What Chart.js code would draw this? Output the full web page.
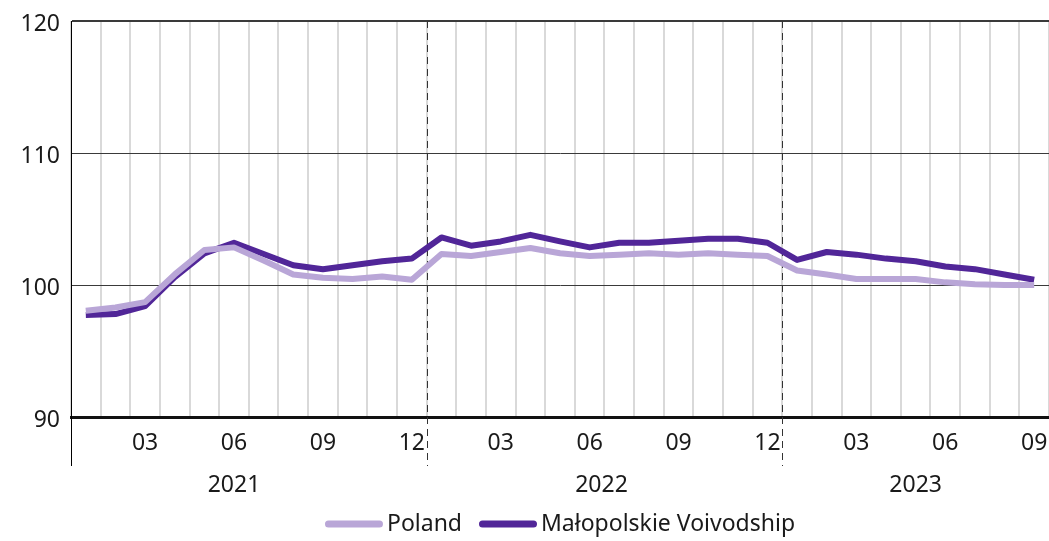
<!DOCTYPE html>
<html>
<head>
<meta charset="utf-8">
<script src="https://cdn.jsdelivr.net/npm/chart.js@4.4.1/dist/chart.umd.min.js"></script>
<style>
  html, body { margin: 0; padding: 0; background: #fff; }
  #wrap { width: 1049px; height: 541px; position: relative; }
</style>
</head>
<body>
<div id="wrap"><canvas id="c"></canvas></div>
<script>
// months 2021-01 .. 2023-09
const months = ['01','02','03','04','05','06','07','08','09','10','11','12',
                '01','02','03','04','05','06','07','08','09','10','11','12',
                '01','02','03','04','05','06','07','08','09'];
const years = ['2021', '2022', '2023'];
const yearStart = [0, 12, 24];        // first month index of each year
const yearLabelAt = [5, 17.4, 28];    // where the year label sits (month index)

const poland = [98.05, 98.3, 98.7, 100.8, 102.65, 102.85, 101.85, 100.8, 100.55, 100.45, 100.65, 100.4,
                102.35, 102.2, 102.5, 102.8, 102.4, 102.2, 102.3, 102.4, 102.3, 102.4, 102.3, 102.2,
                101.1, 100.8, 100.45, 100.45, 100.45, 100.2, 100.05, 100.0, 100.0];
const malopolskie = [97.73, 97.8, 98.4, 100.6, 102.4, 103.2, 102.35, 101.5, 101.2, 101.5, 101.8, 102.0,
                     103.6, 102.98, 103.3, 103.8, 103.3, 102.85, 103.2, 103.2, 103.35, 103.5, 103.5, 103.2,
                     101.9, 102.5, 102.3, 102.0, 101.8, 101.4, 101.2, 100.8, 100.4];

const FONT = '"Noto Sans", "Open Sans", sans-serif';
const FSIZE = 23;
const TEXT = '#1a1a1a';

const extras = {
  id: 'extras',
  beforeDatasetsDraw(chart) {
    const ctx = chart.ctx, x = chart.scales.x, area = chart.chartArea;
    const step = x.getPixelForValue(1) - x.getPixelForValue(0);
    ctx.save();
    // left axis line extends down past the plot
    ctx.strokeStyle = '#000';
    ctx.lineWidth = 1;
    ctx.beginPath();
    ctx.moveTo(area.left + 0.5, area.top);
    ctx.lineTo(area.left + 0.5, area.bottom + 49);
    ctx.stroke();
    // dashed year separators
    ctx.strokeStyle = '#333';
    ctx.setLineDash([7, 5]);
    yearStart.slice(1).forEach(i => {
      const px = Math.round(x.getPixelForValue(i) - step / 2) + 0.5;
      ctx.beginPath();
      ctx.moveTo(px, area.top);
      ctx.lineTo(px, area.bottom + 49);
      ctx.stroke();
    });
    ctx.restore();
  },
  afterDraw(chart) {
    const ctx = chart.ctx, x = chart.scales.x, area = chart.chartArea;
    const step = x.getPixelForValue(1) - x.getPixelForValue(0);
    ctx.save();
    ctx.fillStyle = TEXT;
    ctx.font = FSIZE + 'px ' + FONT;
    ctx.textAlign = 'center';
    ctx.textBaseline = 'middle';
    years.forEach((y, k) => {
      ctx.fillText(y, x.getPixelForValue(0) + yearLabelAt[k] * step, area.bottom + 68);
    });

    // legend, centred under the plot area
    const sw = 58, gapText = 4, gapItem = 17, ly = 524;
    const items = chart.data.datasets.map(d => ({ text: d.label, color: d.borderColor, w: ctx.measureText(d.label).width }));
    let total = 0;
    items.forEach((it, k) => { total += sw + gapText + it.w + (k ? gapItem : 0); });
    let cx = (area.left + area.right) / 2 - total / 2;
    ctx.textAlign = 'left';
    items.forEach((it, k) => {
      if (k) cx += gapItem;
      ctx.strokeStyle = it.color;
      ctx.lineWidth = 7;
      ctx.lineCap = 'round';
      ctx.beginPath();
      ctx.moveTo(cx + 3.5, ly);
      ctx.lineTo(cx + sw - 3.5, ly);
      ctx.stroke();
      cx += sw + gapText;
      ctx.fillText(it.text, cx, ly);
      cx += it.w;
    });
    ctx.restore();
  }
};

new Chart(document.getElementById('c'), {
  type: 'line',
  data: {
    labels: months,
    datasets: [
      { label: 'Poland', data: poland, borderColor: '#b9a6d7', backgroundColor: '#b9a6d7',
        borderWidth: 6, pointRadius: 0, tension: 0, borderJoinStyle: 'round' },
      { label: 'Małopolskie Voivodship', data: malopolskie, borderColor: '#512698', backgroundColor: '#512698',
        borderWidth: 6, pointRadius: 0, tension: 0, borderJoinStyle: 'round' }
    ]
  },
  options: {
    responsive: true,
    maintainAspectRatio: false,
    animation: false,
    layout: { padding: { top: 21, right: 0, left: 0, bottom: 0 } },
    plugins: {
      tooltip: { enabled: false },
      legend: { display: false }
    },
    scales: {
      x: {
        offset: true,
        grid: { offset: true, color: '#d9d9d9', lineWidth: 2, drawTicks: false },
        border: { display: true, color: '#111', width: 3 },
        ticks: {
          autoSkip: false,
          maxRotation: 0,
          color: TEXT,
          font: { family: FONT, size: FSIZE },
          padding: 13,
          callback: (v, i) => (Number(months[i]) % 3 === 0 ? months[i] : '')
        },
        afterFit: s => { s.height = 124; s.paddingLeft = 0; s.paddingRight = 0; }
      },
      y: {
        min: 90,
        max: 120,
        ticks: { stepSize: 10, color: TEXT, font: { family: FONT, size: FSIZE }, padding: 11, labelOffset: 3 },
        grid: {
          drawTicks: false,
          color: c => (c.tick.value === 90 ? 'rgba(0,0,0,0)' : '#3a3a3a'),
          lineWidth: c => (c.tick.value === 120 ? 2 : 1)
        },
        border: { display: true, color: '#000', width: 1 },
        afterFit: s => { s.width = 71; s.paddingTop = 0; s.paddingBottom = 0; }
      }
    }
  },
  plugins: [extras]
});
</script>
</body>
</html>
